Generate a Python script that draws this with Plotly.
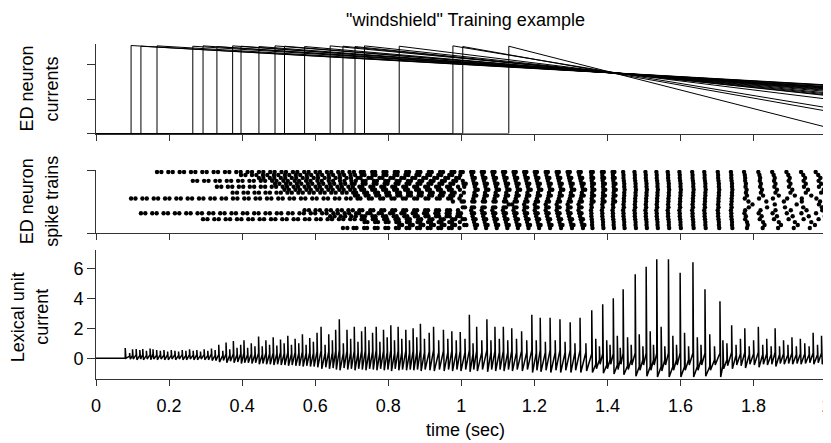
import plotly.graph_objects as go

FONT = "Liberation Sans, Arial, Helvetica, sans-serif"
AX = "#333333"

# ---------------- data ----------------
time_ticks = [0, 0.2, 0.4, 0.6, 0.8, 1.0, 1.2, 1.4, 1.6, 1.8, 2.0]
time_tick_labels = ["0", "0.2", "0.4", "0.6", "0.8", "1", "1.2", "1.4", "1.6", "1.8", "2"]

# Panel 1: ED neuron currents (onset time, value just after onset, value at t = 2 s)
ed_onset_s = [0.096, 0.123, 0.167, 0.265, 0.293, 0.331, 0.374, 0.397, 0.446, 0.490,
              0.516, 0.571, 0.641, 0.676, 0.709, 0.735, 0.830, 0.977, 1.004, 1.130]
ed_peak = [2.55, 2.53, 2.54, 2.53, 2.54, 2.52, 2.54, 2.53, 2.52, 2.54,
           2.53, 2.52, 2.54, 2.53, 2.52, 2.54, 2.53, 2.54, 2.52, 2.53]
ed_end_t = 2.0
ed_end = [1.41, 1.40, 1.39, 1.36, 1.35, 1.34, 1.32, 1.31, 1.29, 1.27,
          1.25, 1.22, 1.18, 1.15, 1.12, 1.10, 1.00, 0.75, 0.65, 0.18]

# Panel 2: ED neuron spike trains (spike times in ms, one list per raster row)
spikes_row20_ms = [167,179,198,210,229,241,260,272,291,303,322,334,353,365,384,396,415,427,446,458,477,489,508,520,539,551,570,582,601,613,632,644,663,675,694,706,725,733,756,764,787,795,818,826,849,857,880,888,911,919,942,950,973,981,
                   998,1027,1056,1085,1114,1143,1172,1201,1231,1261,1291,1321,1355,1385,1414,1443,1474,1504,1534,1565,1597,1632,1665,1702,1738,1774,1813,1851,1890,1930,1970,
                   1004,1033,1062,1091,1120,1149,1178,1207,1237,1267,1297,1327,1360,1390,1419]
spikes_row19_ms = [397,409,427,439,457,469,487,499,517,529,547,559,577,589,607,619,637,649,667,679,697,709,727,735,757,765,787,795,817,825,847,855,877,885,907,915,937,945,967,975,997,
                   1029,1058,1087,1116,1145,1174,1203,1233,1263,1293,1323,1356,1386,1415,1444,1475,1505,1535,1566,1598,1633,1666,1703,1739,1776,1816,1855,1895,1936,1977]
spikes_row18_ms = [446,458,476,488,506,518,536,548,566,578,596,608,626,638,656,668,686,698,716,724,746,754,776,784,806,814,836,844,866,874,896,904,926,934,956,964,986,994,
                   1031,1060,1089,1118,1147,1176,1205,1235,1265,1295,1325,1356,1386,1415,1444,1475,1505,1535,1566,1598,1633,1666,1703,1739,1777,1818,1858,1899,1941,1983,
                   1037,1066,1095,1124,1153,1182,1211,1241,1271,1301,1331,1361,1391,1420]
spikes_row17_ms = [265,277,296,308,327,339,358,370,389,401,420,432,451,463,482,494,513,525,544,556,575,587,606,618,637,649,668,680,699,711,730,738,761,769,792,800,823,831,854,862,885,893,916,924,947,955,978,986,
                   1004,1033,1062,1091,1120,1149,1178,1207,1237,1267,1297,1327,1357,1387,1416,1445,1476,1506,1536,1567,1599,1634,1667,1704,1740,1777,1817,1856,1896,1937,1978]
spikes_row16_ms = [490,502,520,532,550,562,580,592,610,622,640,652,670,682,700,708,730,738,760,768,790,798,820,828,850,858,880,888,910,918,940,948,970,978,
                   1006,1035,1064,1093,1122,1151,1180,1209,1239,1269,1299,1329,1358,1388,1417,1446,1477,1507,1537,1568,1600,1635,1668,1705,1741,1779,1820,1860,1901,1943,1985,
                   1012,1041,1070,1099,1128,1157,1186,1215,1245,1275,1305,1335,1363,1393,1422]
spikes_row15_ms = [331,343,361,373,391,403,421,433,451,463,481,493,511,523,541,553,571,583,601,613,631,643,661,673,691,703,721,729,751,759,781,789,811,819,841,849,871,879,901,909,931,939,961,969,991,
                   1008,1037,1066,1095,1124,1153,1182,1211,1241,1271,1301,1331,1358,1388,1417,1446,1477,1507,1537,1568,1600,1635,1668,1705,1741,1778,1818,1857,1897,1938,1979]
spikes_row14_ms = [516,528,546,558,576,588,606,618,636,648,666,678,696,708,726,734,756,764,786,794,816,824,846,854,876,884,906,914,936,944,966,974,996,
                   1039,1068,1097,1126,1155,1184,1213,1243,1273,1303,1333,1359,1389,1418,1447,1478,1508,1538,1569,1601,1636,1669,1706,1742,1781,1823,1864,1906,1949,1992,
                   1045,1074,1103,1132,1161,1190,1219,1249,1279,1309,1339,1364,1394,1423]
spikes_row13_ms = [374,386,404,416,434,446,464,476,494,506,524,536,554,566,584,596,614,626,644,656,674,686,704,712,734,742,764,772,794,802,824,832,854,862,884,892,914,922,944,952,974,982,
                   1007,1036,1065,1094,1123,1152,1181,1210,1240,1270,1300,1330,1358,1388,1417,1446,1477,1507,1537,1568,1600,1635,1668,1705,1741,1779,1820,1860,1901,1943,1985]
spikes_row12_ms = [709,717,738,746,767,775,796,804,825,833,854,862,883,891,912,920,941,949,970,978,999,
                   1035,1064,1093,1122,1151,1180,1209,1239,1269,1299,1329,1358,1388,1417,1446,1477,1507,1537,1568,1600,1635,1668,1705,1741,1782,1826,1869,1913,1958,
                   1041,1070,1099,1128,1157,1186,1215,1245,1275,1305,1335,1363,1393,1422]
spikes_row11_ms = [96,108,127,139,158,170,189,201,220,232,251,263,282,294,313,325,344,356,375,387,406,418,437,449,468,480,499,511,530,542,561,573,592,604,623,635,654,666,685,697,716,724,747,755,778,786,809,817,840,848,871,879,902,910,933,941,964,972,995,
                   1033,1062,1091,1120,1149,1178,1207,1237,1267,1297,1327,1357,1387,1416,1445,1476,1506,1536,1567,1599,1634,1667,1704,1740,1776,1815,1853,1892,1932,1972]
spikes_row10_ms = [977,1001,1030,1059,1088,1117,1146,1175,1204,1234,1264,1294,1324,1357,1387,1416,1445,1476,1506,1536,1567,1599,1634,1667,1704,1740,1786,1835,1883,1932,1982,
                   1007,1036,1065,1094,1123,1152,1181,1210,1240,1270,1300,1330,1362,1392,1421]
spikes_row9_ms = [1130,1139,1172,1201,1231,1261,1291,1321,1356,1386,1415,1444,1475,1505,1535,1566,1598,1633,1666,1703,1739,1797,1858,1918,1979]
spikes_row8_ms = [1004,1029,1058,1087,1116,1145,1174,1203,1233,1263,1293,1323,1357,1387,1416,1445,1476,1506,1536,1567,1599,1634,1667,1704,1740,1787,1837,1886,1936,1987,
                  1010,1035,1064,1093,1122,1151,1180,1209,1239,1269,1299,1329]
spikes_row7_ms = [571,583,601,613,631,643,661,673,691,703,721,729,751,759,781,789,811,819,841,849,871,879,901,909,931,939,961,969,991,
                  1027,1056,1085,1114,1143,1172,1201,1231,1261,1291,1321,1355,1385,1414,1443,1474,1504,1534,1565,1597,1632,1665,1702,1738,1777,1819,1860,1902,1945,1988]
spikes_row6_ms = [123,135,154,166,185,197,216,228,247,259,278,290,309,321,340,352,371,383,402,414,433,445,464,476,495,507,526,538,557,569,588,600,619,631,650,662,681,693,712,720,743,751,774,782,805,813,836,844,867,875,898,906,929,937,960,968,991,999,
                  1029,1058,1087,1116,1145,1174,1203,1233,1263,1293,1323,1356,1386,1415,1444,1475,1505,1535,1566,1598,1633,1666,1703,1739,1775,1814,1852,1891,1931,1971,
                  1035,1064,1093,1122,1151,1180,1209,1239,1269,1299,1329]
spikes_row5_ms = [641,653,670,682,699,711,728,736,757,765,786,794,815,823,844,852,873,881,902,910,931,939,960,968,989,997,
                  1031,1060,1089,1118,1147,1176,1205,1235,1265,1295,1325,1356,1386,1415,1444,1475,1505,1535,1566,1598,1633,1666,1703,1739,1779,1822,1864,1907,1951,1995]
spikes_row4_ms = [293,305,324,336,355,367,386,398,417,429,448,460,479,491,510,522,541,553,572,584,603,615,634,646,665,677,696,708,727,735,758,766,789,797,820,828,851,859,882,890,913,921,944,952,975,983,
                  1004,1033,1062,1091,1120,1149,1178,1207,1237,1267,1297,1327,1357,1387,1416,1445,1476,1506,1536,1567,1599,1634,1667,1704,1740,1777,1817,1856,1896,1937,1978,
                  1010,1039,1068,1097,1126,1155,1184,1213,1243,1273,1303,1333]
spikes_row3_ms = [735,743,764,772,793,801,822,830,851,859,880,888,909,917,938,946,967,975,996,
                  1035,1064,1093,1122,1151,1180,1209,1239,1269,1299,1329,1358,1388,1417,1446,1477,1507,1537,1568,1600,1635,1668,1705,1741,1782,1826,1869,1913,1958]
spikes_row2_ms = [830,838,859,867,888,896,917,925,946,954,975,983,
                  1008,1037,1066,1095,1124,1153,1182,1211,1241,1271,1301,1331,1358,1388,1417,1446,1477,1507,1537,1568,1600,1635,1668,1705,1741,1784,1830,1875,1921,1968,
                  1014,1043,1072,1101,1130,1159,1188,1217,1247,1277,1307,1337]
spikes_row1_ms = [676,688,705,713,734,742,763,771,792,800,821,829,850,858,879,887,908,916,937,945,966,974,995,
                  1039,1068,1097,1126,1155,1184,1213,1243,1273,1303,1333,1359,1389,1418,1447,1478,1508,1538,1569,1601,1636,1669,1706,1742,1782,1825,1867,1910,1954,1998]

raster_rows = [20, 19, 18, 17, 16, 15, 14, 13, 12, 11, 10, 9, 8, 7, 6, 5, 4, 3, 2, 1]
raster_ms = [spikes_row20_ms, spikes_row19_ms, spikes_row18_ms, spikes_row17_ms, spikes_row16_ms,
             spikes_row15_ms, spikes_row14_ms, spikes_row13_ms, spikes_row12_ms, spikes_row11_ms,
             spikes_row10_ms, spikes_row9_ms, spikes_row8_ms, spikes_row7_ms, spikes_row6_ms,
             spikes_row5_ms, spikes_row4_ms, spikes_row3_ms, spikes_row2_ms, spikes_row1_ms]

# Panel 3: lexical unit current.  Each input spike: time, level just before, top of spike,
# and the (time, level) it falls back to.
lex_t = [0.000, 0.080, 0.092, 0.100, 0.110, 0.120, 0.128, 0.138, 0.148, 0.156, 0.166, 0.176, 0.186, 0.196,
         0.206, 0.216, 0.226, 0.236, 0.246, 0.256, 0.266, 0.276, 0.286, 0.296, 0.306, 0.316, 0.326,
         0.336, 0.347, 0.356, 0.366, 0.376, 0.386, 0.396, 0.405, 0.415, 0.425, 0.435, 0.445, 0.455, 0.465,
         0.475, 0.485, 0.495, 0.505, 0.515, 0.525, 0.535, 0.545, 0.555, 0.565, 0.575, 0.585, 0.595,
         0.605, 0.616, 0.627, 0.637, 0.647, 0.656, 0.666, 0.677, 0.687, 0.697, 0.707, 0.717, 0.727, 0.737,
         0.747, 0.757, 0.767, 0.777, 0.787, 0.797, 0.807, 0.817, 0.827, 0.837, 0.848, 0.858, 0.868, 0.878, 0.888,
         0.899, 0.912, 0.924, 0.938, 0.951, 0.963, 0.974, 0.986, 0.997, 1.010, 1.022, 1.032, 1.042, 1.056,
         1.070, 1.081, 1.092, 1.104, 1.115, 1.127, 1.138, 1.151, 1.165, 1.179, 1.193, 1.205, 1.216, 1.230,
         1.243, 1.257, 1.270, 1.284, 1.298, 1.311, 1.325, 1.341,
         1.357, 1.368, 1.378, 1.387, 1.398, 1.407, 1.416, 1.427, 1.435, 1.443, 1.455, 1.465,
         1.476, 1.487, 1.497, 1.506, 1.517, 1.526, 1.535, 1.547, 1.557, 1.567, 1.579, 1.589,
         1.599, 1.611, 1.622, 1.634, 1.646, 1.656, 1.667, 1.680, 1.693, 1.708, 1.716, 1.727,
         1.740, 1.752, 1.764, 1.776, 1.788, 1.800, 1.813, 1.825, 1.836, 1.848, 1.859, 1.871, 1.882,
         1.894, 1.905, 1.917, 1.928, 1.940, 1.952, 1.963, 1.975, 1.986, 1.997]
lex_base = [0.00, 0.00, 0.15, 0.20, 0.25, 0.20, 0.25, 0.20, 0.25, 0.30, 0.20, 0.25, 0.20, 0.25,
            0.20, 0.25, 0.20, 0.25, 0.20, 0.25, 0.20, 0.25, 0.20, 0.25, 0.20, 0.30, 0.20,
            0.25, 0.20, 0.30, 0.20, 0.30, 0.25, 0.30, 0.35, 0.25, 0.30, 0.25, 0.35, 0.25, 0.35,
            0.30, 0.35, 0.30, 0.40, 0.30, 0.40, 0.30, 0.40, 0.35, 0.45, 0.35, 0.40, 0.35,
            0.45, 0.50, 0.35, 0.45, 0.40, 0.50, 0.55, 0.35, 0.50, 0.40, 0.50, 0.35, 0.50, 0.50,
            0.40, 0.45, 0.55, 0.35, 0.50, 0.40, 0.55, 0.35, 0.50, 0.40, 0.50, 0.35, 0.50, 0.40, 0.55,
            0.40, 0.45, 0.55, 0.40, 0.50, 0.40, 0.50, 0.40, 0.50, 0.40, 0.55, 0.30, 0.50, 0.40,
            0.55, 0.40, 0.50, 0.40, 0.50, 0.40, 0.50, 0.40, 0.50, 0.40, 0.55, 0.35, 0.55, 0.40,
            0.55, 0.40, 0.55, 0.40, 0.55, 0.40, 0.55, 0.40,
            0.30, -0.40, -0.10, 0.30, -0.45, -0.10, 0.30, -0.45, -0.10, 0.35, -0.50, -0.10,
            0.35, -0.55, -0.10, 0.35, -0.55, -0.10, 0.35, -0.55, -0.10, 0.35, -0.55, -0.10,
            0.35, -0.55, -0.10, 0.35, -0.55, -0.10, 0.35, -0.55, -0.10, 0.35, -0.50, -0.10,
            0.40, 0.20, 0.30, 0.40, 0.25, 0.30, 0.40, 0.25, 0.30, 0.25, 0.40, 0.25, 0.30,
            0.25, 0.35, 0.25, 0.30, 0.30, 0.25, 0.35, 0.25, 0.35, 0.30]
lex_peak = [0.00, 0.68, 0.35, 0.60, 0.62, 0.55, 0.62, 0.50, 0.65, 0.60, 0.55, 0.50, 0.55, 0.45,
            0.55, 0.50, 0.45, 0.55, 0.50, 0.60, 0.50, 0.55, 0.45, 0.60, 0.50, 0.65, 0.55,
            0.90, 0.50, 1.05, 0.60, 1.15, 0.70, 0.90, 1.20, 0.70, 1.00, 0.80, 1.45, 0.80, 1.20,
            0.90, 1.40, 0.85, 1.25, 1.00, 1.50, 0.90, 1.30, 1.00, 1.60, 0.90, 1.35, 1.10,
            1.70, 2.10, 0.90, 1.60, 1.20, 1.90, 2.60, 1.00, 1.90, 1.30, 2.10, 1.10, 1.80, 2.10,
            1.20, 1.70, 2.10, 1.10, 1.90, 1.40, 2.20, 1.20, 2.10, 1.30, 1.90, 1.20, 2.00, 1.40, 2.30,
            1.30, 1.70, 2.10, 1.20, 1.90, 1.30, 1.80, 1.20, 1.75, 1.30, 2.90, 1.00, 2.10, 1.20,
            2.60, 1.20, 2.10, 1.30, 2.10, 1.20, 2.00, 1.30, 1.80, 1.20, 2.90, 1.20, 2.70, 1.10,
            2.70, 1.20, 2.60, 1.10, 2.40, 1.00, 2.70, 1.00,
            3.20, 1.30, 0.80, 3.60, 1.20, 0.90, 4.00, 1.50, 0.70, 4.60, 1.40, 0.90,
            5.60, 1.60, 0.80, 6.10, 1.80, 0.90, 6.60, 2.10, 0.80, 6.60, 1.50, 0.90,
            5.70, 1.70, 0.80, 6.40, 1.40, 0.90, 4.60, 1.60, 0.80, 3.80, 1.20, 1.00,
            2.20, 0.90, 1.30, 2.00, 0.80, 1.20, 2.10, 0.90, 1.30, 0.80, 2.00, 0.80, 1.20,
            0.90, 1.40, 0.80, 1.30, 1.00, 0.80, 1.70, 0.90, 1.50, 1.00]
lex_fall_t = [0.002, 0.082, 0.094, 0.102, 0.112, 0.122, 0.130, 0.140, 0.150, 0.158, 0.168, 0.178, 0.188, 0.198,
              0.208, 0.218, 0.228, 0.238, 0.248, 0.258, 0.268, 0.278, 0.288, 0.298, 0.308, 0.318, 0.328,
              0.338, 0.349, 0.358, 0.368, 0.378, 0.388, 0.398, 0.407, 0.417, 0.427, 0.437, 0.447, 0.457, 0.467,
              0.477, 0.487, 0.497, 0.507, 0.517, 0.527, 0.537, 0.547, 0.557, 0.567, 0.577, 0.587, 0.597,
              0.607, 0.618, 0.629, 0.639, 0.649, 0.658, 0.668, 0.679, 0.689, 0.699, 0.709, 0.719, 0.729, 0.739,
              0.749, 0.759, 0.769, 0.779, 0.789, 0.799, 0.809, 0.819, 0.829, 0.839, 0.850, 0.860, 0.870, 0.880, 0.890,
              0.901, 0.914, 0.926, 0.940, 0.953, 0.965, 0.976, 0.988, 0.999, 1.012, 1.024, 1.034, 1.044, 1.058,
              1.072, 1.083, 1.094, 1.106, 1.117, 1.129, 1.140, 1.153, 1.167, 1.181, 1.195, 1.207, 1.218, 1.232,
              1.245, 1.259, 1.272, 1.286, 1.300, 1.313, 1.327, 1.343,
              1.359, 1.370, 1.380, 1.389, 1.400, 1.409, 1.418, 1.429, 1.437, 1.445, 1.457, 1.467,
              1.478, 1.489, 1.499, 1.508, 1.519, 1.528, 1.537, 1.549, 1.559, 1.569, 1.581, 1.591,
              1.601, 1.613, 1.624, 1.636, 1.648, 1.658, 1.669, 1.682, 1.695, 1.710, 1.718, 1.729,
              1.742, 1.754, 1.766, 1.778, 1.790, 1.802, 1.815, 1.827, 1.838, 1.850, 1.861, 1.873, 1.884,
              1.896, 1.907, 1.919, 1.930, 1.942, 1.954, 1.965, 1.977, 1.988, 2.000]
lex_fall_v = [0.00, 0.00, -0.05, -0.05, -0.10, -0.05, -0.10, -0.05, -0.10, -0.05, -0.10, -0.05, -0.10, -0.10,
              -0.05, -0.10, -0.05, -0.10, -0.10, -0.05, -0.10, -0.10, -0.05, -0.10, -0.10, -0.15, -0.15,
              -0.25, -0.15, -0.30, -0.20, -0.30, -0.25, -0.35, -0.30, -0.30, -0.35, -0.30, -0.40, -0.35, -0.40,
              -0.40, -0.45, -0.40, -0.45, -0.45, -0.50, -0.45, -0.50, -0.50, -0.55, -0.50, -0.55, -0.55,
              -0.60, -0.70, -0.60, -0.70, -0.65, -0.75, -0.80, -0.65, -0.75, -0.70, -0.80, -0.70, -0.75, -0.80,
              -0.70, -0.75, -0.80, -0.70, -0.80, -0.75, -0.85, -0.70, -0.80, -0.75, -0.80, -0.75, -0.80, -0.75, -0.85,
              -0.75, -0.80, -0.85, -0.75, -0.85, -0.75, -0.85, -0.75, -0.85, -0.75, -0.90, -0.75, -0.85, -0.75,
              -0.90, -0.75, -0.85, -0.75, -0.85, -0.75, -0.85, -0.75, -0.85, -0.75, -0.95, -0.80, -0.90, -0.80,
              -0.95, -0.80, -0.95, -0.80, -0.95, -0.80, -0.95, -0.85,
              -0.95, -0.70, -0.40, -1.00, -0.70, -0.40, -1.05, -0.75, -0.40, -1.10, -0.75, -0.45,
              -1.20, -0.80, -0.45, -1.20, -0.80, -0.45, -1.25, -0.85, -0.45, -1.25, -0.80, -0.45,
              -1.25, -0.80, -0.45, -1.25, -0.80, -0.45, -1.20, -0.80, -0.45, -1.25, -0.70, -0.50,
              -0.70, -0.45, -0.50, -0.65, -0.40, -0.45, -0.60, -0.40, -0.45, -0.40, -0.55, -0.35, -0.40,
              -0.35, -0.40, -0.35, -0.40, -0.35, -0.30, -0.40, -0.30, -0.40, 0.30]

# ---------------- figure ----------------
fig = go.Figure()

for t0, pk, en in zip(ed_onset_s, ed_peak, ed_end):
    fig.add_trace(go.Scatter(x=[0, t0, t0, ed_end_t], y=[0, 0, pk, en], mode="lines",
                             line=dict(color="black", width=1), xaxis="x", yaxis="y",
                             showlegend=False, hoverinfo="skip"))

rx, ry = [], []
for row, times in zip(raster_rows, raster_ms):
    for ms in times:
        rx.append(ms / 1000.0)
        ry.append(row)
fig.add_trace(go.Scatter(x=rx, y=ry, mode="markers", marker=dict(size=4.4, color="black", line=dict(width=0)),
                         xaxis="x2", yaxis="y2", showlegend=False, hoverinfo="skip"))

lx, ly = [], []
for t, b, p, ft, fv in zip(lex_t, lex_base, lex_peak, lex_fall_t, lex_fall_v):
    lx += [t, t, ft]
    ly += [b, p, fv]
fig.add_trace(go.Scatter(x=lx, y=ly, mode="lines", line=dict(color="black", width=1.5),
                         xaxis="x3", yaxis="y3", showlegend=False, hoverinfo="skip"))

# the page body has an 8 px margin, so the figure is drawn 8 px in from the window corner
OFF = 8
W, H = 831 - OFF, 443 - OFF
ML, MR = 96 - OFF, 4
PW = W - ML - MR


def py(px):
    return 1 - (px - OFF) / H


def pxx(px):
    return (px - OFF - ML) / PW


xcommon = dict(range=[0, 2.001], showline=True, linecolor=AX, linewidth=1, ticks="outside", ticklen=6,
               tickcolor=AX, tickwidth=1, tickvals=time_ticks, ticktext=time_tick_labels,
               showgrid=False, zeroline=False, automargin=False, domain=[0, 1])
ycommon = dict(showline=True, linecolor=AX, linewidth=1, ticks="outside", ticklen=8, tickcolor=AX,
               tickwidth=1, showgrid=False, zeroline=False, automargin=False)

fig.update_layout(
    width=W, height=H, margin=dict(l=ML, r=MR, t=0, b=0),
    paper_bgcolor="white", plot_bgcolor="white",
    font=dict(family=FONT, size=18, color="black"),
    xaxis=dict(xcommon, anchor="y", showticklabels=False),
    yaxis=dict(ycommon, domain=[py(133.5), py(44)], range=[0, 2.594], tickvals=[0, 1, 2],
               showticklabels=False, anchor="x"),
    xaxis2=dict(xcommon, anchor="y2", showticklabels=False),
    yaxis2=dict(ycommon, domain=[py(233.3), py(170)], range=[-0.8, 20.68], tickvals=[-0.79, 20.67],
                showticklabels=False, anchor="x2"),
    xaxis3=dict(xcommon, anchor="y3", showticklabels=True, ticklabelstandoff=4,
                ticklabeloverflow="allow", tickfont=dict(size=18, family=FONT)),
    yaxis3=dict(ycommon, domain=[py(379.3), py(250)], range=[-1.4, 7.22], tickvals=[0, 2, 4, 6],
                ticktext=["0", "2", "4", "6"], showticklabels=True, anchor="x3",
                tickfont=dict(size=18, family=FONT)),
)

ann = [
    dict(text='"windshield" Training example', x=pxx(465), y=py(20)),
    dict(text="time (sec)", x=pxx(465), y=py(430)),
    dict(text="ED neuron", x=pxx(26.5), y=py(89), textangle=-90),
    dict(text="currents", x=pxx(51.5), y=py(89), textangle=-90),
    dict(text="ED neuron", x=pxx(26.5), y=py(201.7), textangle=-90),
    dict(text="spike trains", x=pxx(52), y=py(201.7), textangle=-90),
    dict(text="Lexical unit", x=pxx(18.3), y=py(317), textangle=-90),
    dict(text="current", x=pxx(41.8), y=py(317), textangle=-90),
]
for a in ann:
    a.update(xref="paper", yref="paper", showarrow=False, xanchor="center", yanchor="middle",
             font=dict(family=FONT, size=18, color="black"))
fig.update_layout(annotations=ann)

fig.write_html("out.html")
